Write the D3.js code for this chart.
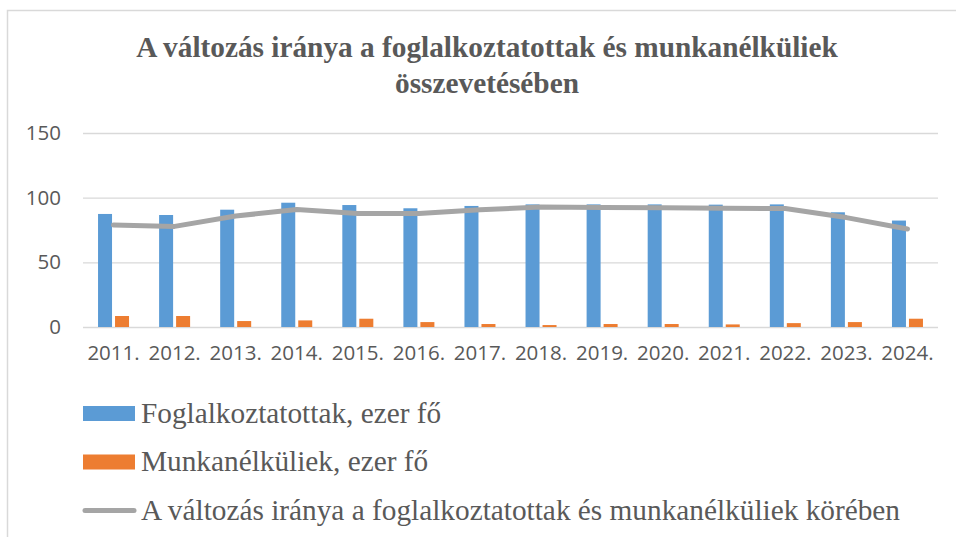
<!DOCTYPE html>
<html>
<head>
<meta charset="utf-8">
<script src="https://cdn.jsdelivr.net/npm/d3@7"></script>
<style>
  body { margin: 0; background: #fff; }
  svg { display: block; }
</style>
</head>
<body>
<svg></svg>
<script>
const years = ['2011.', '2012.', '2013.', '2014.', '2015.', '2016.', '2017.',
  '2018.', '2019.', '2020.', '2021.', '2022.', '2023.', '2024.'];
const employed = [87.4, 86.6, 90.7, 96.1, 94.3, 91.8, 93.6, 94.8, 94.8, 94.8, 94.6, 94.8, 88.7, 82.3];
const unemployed = [8.5, 8.5, 4.6, 5.1, 6.4, 3.8, 2.3, 1.5, 2.3, 2.3, 2.0, 3.0, 3.8, 6.4];
const direction = [78.8, 77.8, 85.8, 90.8, 87.8, 87.8, 90.6, 92.8, 92.4, 92.2, 91.9, 91.6, 84.6, 75.8];
const yTicks = [0, 50, 100, 150];
const titleLines = ['A változás iránya a foglalkoztatottak és munkanélküliek', 'összevetésében'];
const legendLabels = ['Foglalkoztatottak, ezer fő', 'Munkanélküliek, ezer fő',
  'A változás iránya a foglalkoztatottak és munkanélküliek körében'];

const width = 956, height = 537;
const margin = {top: 133, right: 18, bottom: 210, left: 83};
const innerWidth = width - margin.left - margin.right;
const innerHeight = height - margin.top - margin.bottom;
const grey = '#595959';

const svg = d3.select('svg')
  .attr('width', width)
  .attr('height', height);

// chart frame (runs off right/bottom like the source)
svg.append('rect')
  .attr('x', 7.5).attr('y', 10.5)
  .attr('width', width + 20).attr('height', height + 20)
  .attr('fill', 'none')
  .attr('stroke', '#d9d9d9')
  .attr('stroke-width', 1.5);

// title
svg.append('text')
  .attr('x', 487).attr('y', 57)
  .attr('text-anchor', 'middle')
  .style('font', 'bold 29.3px "Liberation Serif", serif')
  .attr('fill', grey)
  .selectAll('tspan')
  .data(titleLines)
  .enter().append('tspan')
    .attr('x', 487)
    .attr('dy', (d, i) => i ? 36 : 0)
    .text(d => d);

const xScale = d3.scaleBand()
  .domain(years)
  .range([0, innerWidth]);

const yScale = d3.scaleLinear()
  .domain([0, 150])
  .range([innerHeight, 0]);

const g = svg.append('g')
  .attr('transform', `translate(${margin.left}, ${margin.top})`);

// gridlines + y labels
const yAxis = g.append('g')
  .call(d3.axisLeft(yScale).tickValues(yTicks).tickSize(-innerWidth).tickPadding(22));
yAxis.select('.domain').remove();
yAxis.selectAll('line').attr('stroke', '#d9d9d9').attr('stroke-width', 1.3);
yAxis.selectAll('text')
  .style('font', '20.5px "Open Sans", sans-serif')
  .attr('fill', grey);

// x labels
const xAxis = g.append('g')
  .attr('transform', `translate(0, ${innerHeight})`)
  .call(d3.axisBottom(xScale).tickSize(0).tickPadding(18));
xAxis.select('.domain').remove();
xAxis.selectAll('text')
  .style('font', '20.5px "Open Sans", sans-serif')
  .attr('fill', grey);

const barW = 14, gap = 3;
const center = d => xScale(d) + xScale.bandwidth() / 2;

g.selectAll('.bar-emp').data(years)
  .enter().append('rect')
    .attr('class', 'bar-emp')
    .attr('x', d => center(d) - gap / 2 - barW)
    .attr('y', (d, i) => yScale(employed[i]))
    .attr('width', barW)
    .attr('height', (d, i) => innerHeight - yScale(employed[i]))
    .attr('fill', '#5b9bd5');

g.selectAll('.bar-unemp').data(years)
  .enter().append('rect')
    .attr('class', 'bar-unemp')
    .attr('x', d => center(d) + gap / 2)
    .attr('y', (d, i) => yScale(unemployed[i]))
    .attr('width', barW)
    .attr('height', (d, i) => innerHeight - yScale(unemployed[i]))
    .attr('fill', '#ed7d31');

const line = d3.line()
  .x((d, i) => center(years[i]))
  .y(d => yScale(d));

g.append('path')
  .datum(direction)
  .attr('d', line)
  .attr('fill', 'none')
  .attr('stroke', '#a5a5a5')
  .attr('stroke-width', 5)
  .attr('stroke-linecap', 'round')
  .attr('stroke-linejoin', 'round');

// legend
const legend = svg.append('g')
  .attr('transform', 'translate(83, 0)');
const rowY = [413.5, 462, 510.5];
const swatches = ['#5b9bd5', '#ed7d31'];

legend.selectAll('.sw').data(swatches)
  .enter().append('rect')
    .attr('x', 0)
    .attr('y', (d, i) => rowY[i] - 7.5)
    .attr('width', 52).attr('height', 15)
    .attr('fill', d => d);

legend.append('line')
  .attr('x1', 2).attr('x2', 51)
  .attr('y1', rowY[2]).attr('y2', rowY[2])
  .attr('stroke', '#a5a5a5')
  .attr('stroke-width', 5)
  .attr('stroke-linecap', 'round');

legend.selectAll('.lt').data(legendLabels)
  .enter().append('text')
    .attr('x', 58)
    .attr('y', (d, i) => rowY[i] + 9)
    .style('font', '29.3px "Liberation Serif", serif')
    .attr('fill', grey)
    .text(d => d);
</script>
</body>
</html>
